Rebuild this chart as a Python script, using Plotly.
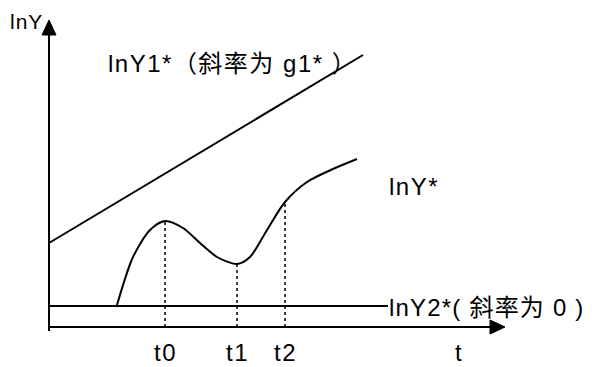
import plotly.graph_objects as go

# Data units: t along the horizontal axis, lnY along the vertical axis (origin at the axes' corner)
# lnY* curve (key points, smoothed with a spline)
curve_t = [68, 84, 101, 116, 134, 151, 168, 188, 201, 218, 236, 258, 284, 308]
curve_y = [22, 70, 97, 106, 99, 84, 70, 63, 70, 97, 125, 145, 158, 168]

# lnY1* straight line (slope g1*)
y1_t = [0, 314]
y1_y = [84, 272]

# lnY2* flat line (slope 0)
y2_t = [0, 339]
y2_y = [21, 21]

# marked times t0, t1, t2 and their curve values
mark_t = [116, 188, 236]
mark_y = [106, 63, 125]
mark_labels = ["t0", "t1", "t2"]

# axis extents
x_axis_end = 441
y_axis_end = 292
arrow_len = 15
arrow_half = 7

FONT = "Liberation Sans, Arial, Noto Sans CJK SC, sans-serif"
BLACK = "#000000"

fig = go.Figure()

def line(xs, ys, width=2, dash="solid"):
    fig.add_trace(go.Scatter(x=xs, y=ys, mode="lines",
                             line=dict(color=BLACK, width=width, dash=dash),
                             hoverinfo="skip", showlegend=False))

# axes
line([0, 0], [-4, y_axis_end], width=2)
line([0, x_axis_end], [0, 0], width=2)
# arrowheads
fig.add_trace(go.Scatter(x=[-arrow_half, arrow_half, 0, -arrow_half],
                         y=[y_axis_end, y_axis_end, y_axis_end + arrow_len, y_axis_end],
                         mode="lines", fill="toself", fillcolor=BLACK,
                         line=dict(color=BLACK, width=1), hoverinfo="skip", showlegend=False))
fig.add_trace(go.Scatter(x=[x_axis_end, x_axis_end, x_axis_end + arrow_len, x_axis_end],
                         y=[-arrow_half, arrow_half, 0, -arrow_half],
                         mode="lines", fill="toself", fillcolor=BLACK,
                         line=dict(color=BLACK, width=1), hoverinfo="skip", showlegend=False))

# lines
line(y1_t, y1_y, width=2)
line(y2_t, y2_y, width=2)
fig.add_trace(go.Scatter(x=curve_t, y=curve_y, mode="lines",
                         line=dict(color=BLACK, width=2, shape="spline", smoothing=0.8),
                         hoverinfo="skip", showlegend=False))

# dotted guide lines
for t, v in zip(mark_t, mark_y):
    line([t, t], [0, v], width=1.5, dash="dot")

SP = "letter-spacing:1.5px"

def label(x, y, text, anchor="left", spacing=SP, size=24):
    fig.add_annotation(x=x, y=y, text=f'<span style="{spacing}">{text}</span>', showarrow=False,
                       xanchor=anchor, yanchor="middle", borderpad=0,
                       font=dict(family=FONT, size=size, color=BLACK))

label(-5, 306, "lnY", anchor="right", spacing="letter-spacing:1px", size=21)
label(58, 264, "lnY1*（斜率为 g1* ）")
label(339, 141, "lnY*")
label(339, 20, "lnY2*( 斜率为 0 )", spacing="letter-spacing:1.2px")
for t, lab in zip(mark_t, mark_labels):
    label(t, -25, lab, anchor="center")
label(410, -25, "t", anchor="center")

# page body has an 8px margin: size the figure and shift ranges to compensate
fig.update_layout(
    width=584, height=359,
    margin=dict(l=0, r=0, t=0, b=0),
    paper_bgcolor="white", plot_bgcolor="white",
    xaxis=dict(range=[-41, 543], visible=False, fixedrange=True),
    yaxis=dict(range=[-40, 319], visible=False, fixedrange=True),
)

fig.write_html("out.html")
